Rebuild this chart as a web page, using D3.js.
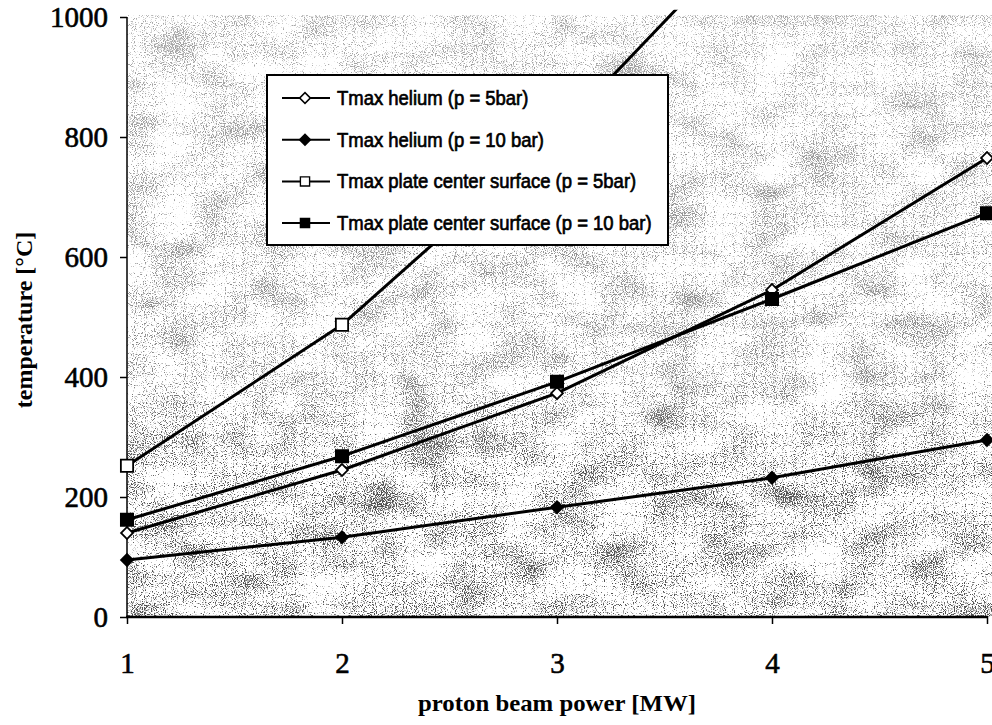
<!DOCTYPE html>
<html>
<head>
<meta charset="utf-8">
<script src="https://cdn.jsdelivr.net/npm/d3@7"></script>
<style>
  body { margin: 0; background: #fff; }
  svg { display: block; }
</style>
</head>
<body>
<script>
// proton beam power [MW]
var power = [1, 2, 3, 4, 5];

// temperatures [°C]
var he_5bar = [140, 245, 373, 545, 765];
var he_10bar = [95, 133, 183, 232, 295];
var plate_5bar = [252, 487, 805, 1180];   // leaves the plot after 3 MW
var plate_10bar = [162, 268, 392, 530, 673];

var series_names = [
	"Tmax helium (p = 5bar)",
	"Tmax helium (p = 10 bar)",
	"Tmax plate center surface (p = 5bar)",
	"Tmax plate center surface (p = 10 bar)"
];

var y_ticks = [0, 200, 400, 600, 800, 1000];

var width = 992,
	height = 725;

var SERIF = "'Liberation Serif', 'Times New Roman', serif";
var SANS = "'Liberation Sans', Arial, sans-serif";

var x = d3.scaleLinear().domain([1, 5]).range([127, 987]);
var y = d3.scaleLinear().domain([0, 1000]).range([617, 17]);

var svg = d3.select("body").append("svg")
	.attr("width", width)
	.attr("height", height);

var defs = svg.append("defs");

// scanner speckle for the plot background
var f = defs.append("filter")
	.attr("id", "speckle")
	.attr("x", 0).attr("y", 0)
	.attr("width", 1).attr("height", 1);
f.append("feTurbulence")
	.attr("type", "fractalNoise")
	.attr("baseFrequency", 0.9)
	.attr("numOctaves", 1)
	.attr("seed", 4)
	.attr("result", "fine");
f.append("feTurbulence")
	.attr("type", "fractalNoise")
	.attr("baseFrequency", "0.02 0.035")
	.attr("numOctaves", 2)
	.attr("seed", 9)
	.attr("result", "coarse");
f.append("feComposite")
	.attr("in", "fine")
	.attr("in2", "coarse")
	.attr("operator", "arithmetic")
	.attr("k1", 0).attr("k2", 0.75).attr("k3", 0.25).attr("k4", 0)
	.attr("result", "mix");
f.append("feColorMatrix")
	.attr("in", "mix")
	.attr("type", "matrix")
	.attr("values", "0 0 0 0 0.08  0 0 0 0 0.08  0 0 0 0 0.08  -10 0 0 0 4.7");

// denser speckle towards the bottom, as in the scan
var grad = defs.append("linearGradient")
	.attr("id", "fade")
	.attr("x1", 0).attr("y1", 0).attr("x2", 0).attr("y2", 1);
grad.append("stop").attr("offset", "0").attr("stop-color", "#fff").attr("stop-opacity", 0.5);
grad.append("stop").attr("offset", "0.6").attr("stop-color", "#fff").attr("stop-opacity", 0.7);
grad.append("stop").attr("offset", "0.75").attr("stop-color", "#fff").attr("stop-opacity", 1);
grad.append("stop").attr("offset", "1").attr("stop-color", "#fff").attr("stop-opacity", 1);

var mask = defs.append("mask").attr("id", "fademask")
	.attr("maskUnits", "userSpaceOnUse")
	.attr("x", 0).attr("y", 0).attr("width", width).attr("height", height);
mask.append("rect")
	.attr("x", x(1))
	.attr("y", y(1003))
	.attr("width", width - x(1))
	.attr("height", y(0) - y(1003))
	.attr("fill", "url(#fade)");

var clip = defs.append("clipPath").attr("id", "plotclip");
clip.append("rect")
	.attr("x", x(1) - 10)
	.attr("y", y(1012))
	.attr("width", x(5) - x(1) + 20)
	.attr("height", y(0) - y(1012) + 10);

svg.append("g")
	.attr("mask", "url(#fademask)")
	.append("rect")
	.attr("x", x(1))
	.attr("y", y(1003))
	.attr("width", width - x(1))
	.attr("height", y(0) - y(1003))
	.attr("fill", "#fff")
	.attr("filter", "url(#speckle)");

// axes
var y_axis = svg.append("g")
	.attr("transform", "translate(" + x(1) + ",0)")
	.call(d3.axisLeft(y)
		.tickValues(y_ticks)
		.tickSize(7)
		.tickPadding(12)
		.tickFormat(d3.format("d")));

var x_axis = svg.append("g")
	.attr("transform", "translate(0," + y(0) + ")")
	.call(d3.axisBottom(x)
		.tickValues(power)
		.tickSize(7)
		.tickPadding(28)
		.tickFormat(d3.format("d")));

[y_axis, x_axis].forEach(function(a) {
	a.select(".domain").remove();
	a.selectAll("line").attr("stroke", "#000").attr("stroke-width", 1.5);
	a.selectAll("text")
		.attr("fill", "#000")
		.attr("stroke", "#000")
		.attr("stroke-width", 0.6)
		.style("font-family", SERIF)
		.style("font-size", "29px");
});

svg.append("line")
	.attr("x1", x(1)).attr("x2", x(1))
	.attr("y1", y(1000)).attr("y2", y(0))
	.attr("stroke", "#000")
	.attr("stroke-width", 1.5);

svg.append("line")
	.attr("x1", x(1) - 1).attr("x2", x(5) + 1)
	.attr("y1", y(0)).attr("y2", y(0))
	.attr("stroke", "#000")
	.attr("stroke-width", 2.5);

// axis titles
svg.append("text")
	.attr("transform", "translate(32,320) rotate(-90)")
	.attr("text-anchor", "middle")
	.style("font-family", SERIF)
	.style("font-weight", "bold")
	.style("font-size", "24px")
	.text("temperature [°C]");

svg.append("text")
	.attr("x", 557)
	.attr("y", 711)
	.attr("text-anchor", "middle")
	.attr("textLength", 278)
	.attr("lengthAdjust", "spacingAndGlyphs")
	.style("font-family", SERIF)
	.style("font-weight", "bold")
	.style("font-size", "24px")
	.text("proton beam power [MW]");

// series
var diamond = d3.symbol().type(d3.symbolSquare).size(70);
var square = d3.symbol().type(d3.symbolSquare).size(150);

var series = [
	{ name: series_names[0], values: he_5bar, shape: "diamond", fill: "#fff" },
	{ name: series_names[1], values: he_10bar, shape: "diamond", fill: "#000" },
	{ name: series_names[2], values: plate_5bar, shape: "square", fill: "#fff" },
	{ name: series_names[3], values: plate_10bar, shape: "square", fill: "#000" }
];

var line = d3.line()
	.x(function(d, i) { return x(power[i]); })
	.y(function(d) { return y(d); });

var plot = svg.append("g").attr("clip-path", "url(#plotclip)");

function marker(sel, s) {
	sel.attr("d", s.shape == "diamond" ? diamond() : square())
		.attr("fill", s.fill)
		.attr("stroke", "#000")
		.attr("stroke-width", 1.8);
}

series.forEach(function(s) {
	plot.append("path")
		.datum(s.values)
		.attr("fill", "none")
		.attr("stroke", "#000")
		.attr("stroke-width", 3)
		.attr("stroke-linejoin", "round")
		.attr("d", line);

	plot.selectAll(null)
		.data(s.values)
		.enter().append("path")
		.attr("transform", function(d, i) {
			return "translate(" + x(power[i]) + "," + y(d) + ")" +
				(s.shape == "diamond" ? " rotate(45)" : "");
		})
		.call(marker, s);
});

// legend
var legend = svg.append("g")
	.attr("transform", "translate(267,75)");

legend.append("rect")
	.attr("width", 401)
	.attr("height", 170)
	.attr("fill", "#fff")
	.attr("stroke", "#000")
	.attr("stroke-width", 2);

var row = legend.selectAll("g.row")
	.data(series)
	.enter().append("g")
	.attr("class", "row")
	.attr("transform", function(d, i) { return "translate(0," + (23 + i * 41.7) + ")"; });

row.append("line")
	.attr("x1", 15).attr("x2", 63)
	.attr("stroke", "#000")
	.attr("stroke-width", 2);

row.append("path")
	.attr("transform", function(d) {
		return "translate(38,0)" + (d.shape == "diamond" ? " rotate(45) scale(0.9)" : " scale(0.75)");
	})
	.each(function(d) { d3.select(this).call(marker, d); });

row.append("text")
	.attr("transform", "translate(70,7) scale(0.88,1)")
	.attr("fill", "#000")
	.attr("stroke", "#000")
	.attr("stroke-width", 0.7)
	.style("font-family", SANS)
	.style("font-size", "21px")
	.text(function(d) { return d.name; });
</script>
</body>
</html>
